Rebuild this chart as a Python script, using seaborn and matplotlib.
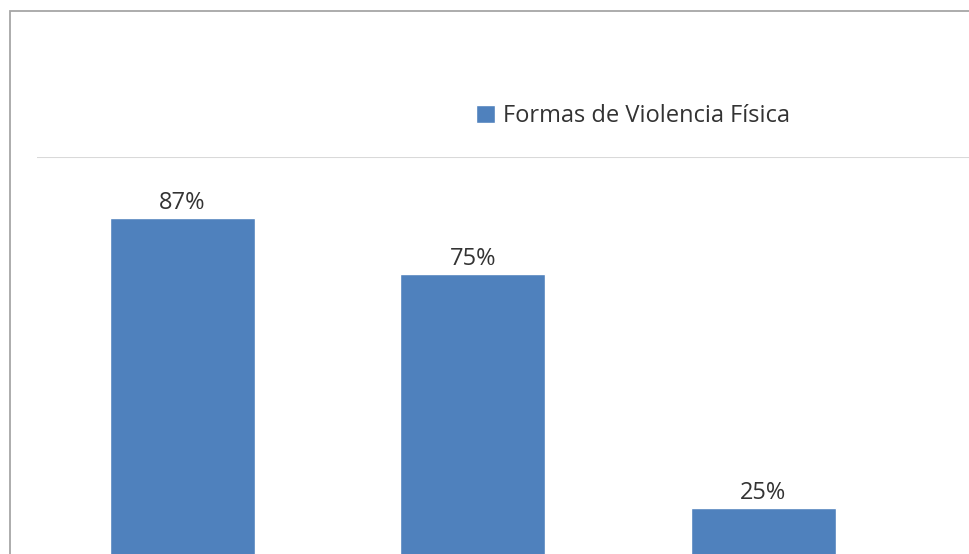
import matplotlib
matplotlib.use('Agg')
import matplotlib.pyplot as plt
from matplotlib.patches import Rectangle
import seaborn as sns

# Data (category names are cut off in the reference)
categorias = ['Golpes', 'Empujones', 'Otros']
porcentajes = [87, 75, 25]
serie = 'Formas de Violencia Física'

sns.set_theme(style='white')
plt.rcParams['font.family'] = ['Open Sans', 'DejaVu Sans']

W, H = 969, 554
fig = plt.figure(figsize=(W / 100, H / 100), dpi=100)
fig.patch.set_facecolor('white')

# chart frame (cropped at right and bottom)
fig.patches.append(Rectangle((10 / W, -0.2), 2.0, (H - 11) / H + 0.2,
                             transform=fig.transFigure, fill=False,
                             edgecolor='#A6A6A6', linewidth=1.3))

# axes extends beyond the figure: 0% sits below the bottom edge
px_per_pct = 4.675
y100 = 157
y0 = y100 + 100 * px_per_pct
step = 290.5
left = 37
ax = fig.add_axes([left / W, (H - y0) / H, 4 * step / W, (y0 - y100) / H])

sns.barplot(x=categorias, y=porcentajes, color='#4F81BD', width=0.5,
            saturation=1, label=serie, ax=ax)
ax.set_xlim(-0.5, 3.5)
ax.set_ylim(0, 100)
ax.set_yticks([100])
ax.yaxis.grid(True, color='#D9D9D9', linewidth=1.5)
ax.set_axisbelow(True)
ax.tick_params(left=False, bottom=False, labelleft=False, labelbottom=False)
ax.set_xlabel('')
ax.set_ylabel('')
for s in ax.spines.values():
    s.set_visible(False)

ax.bar_label(ax.containers[0], labels=[f'{v}%' for v in porcentajes],
             padding=2, fontsize=17, color='#333333')

ax.legend(loc='center', bbox_to_anchor=(633 / W, 1 - 116 / H),
          bbox_transform=fig.transFigure, frameon=False, fontsize=17,
          handlelength=0.78, handleheight=0.78, handletextpad=0.35,
          borderpad=0, labelcolor='#333333')

plt.savefig('out.png', dpi=100)
plt.close()
